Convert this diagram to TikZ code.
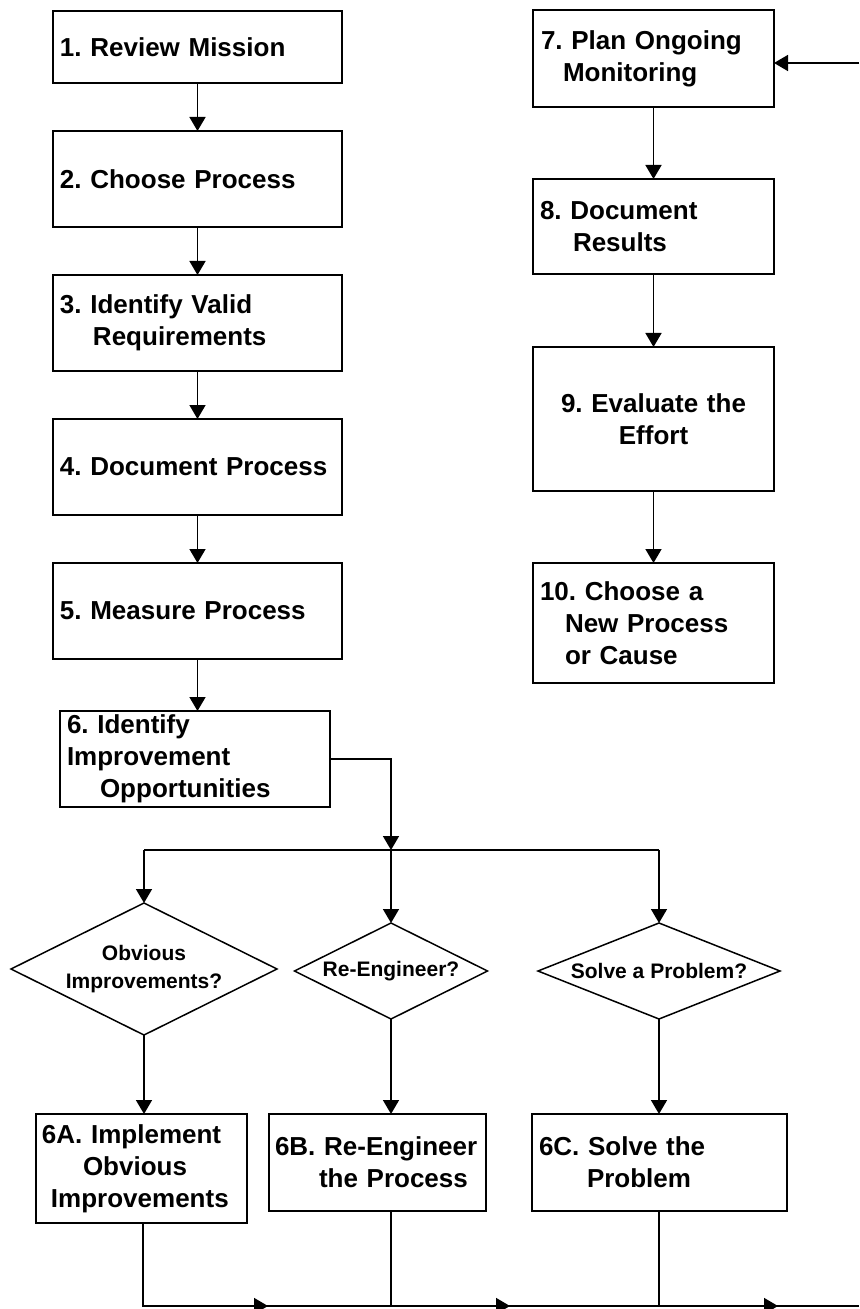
\documentclass[tikz,border=0pt]{standalone}
\usepackage{fontspec}
\setmainfont{Liberation Sans}
\frenchspacing
\usetikzlibrary{shapes.geometric,arrows.meta}

\begin{document}
\begin{tikzpicture}[x=1bp,y=-1bp]
  % some styles
  \tikzset{
    box/.style={
      rectangle,
      draw,
      line width=1.5bp,
      inner sep=0mm,
      outer sep=0mm,
      align=left,
      font=\fontsize{26bp}{32bp}\selectfont\bfseries
    },
    decision/.style={
      diamond,
      draw,
      line width=1.5bp,
      inner sep=0mm,
      outer sep=0mm,
      aspect=2,
      align=center,
      font=\fontsize{21bp}{28bp}\selectfont\bfseries
    },
    arr/.style={line width=1.6bp,-{Triangle[width=16bp,length=14bp]}},
    conn/.style={line width=1.6bp}
  }

\useasboundingbox (0,0) rectangle (859,1309);

% left column
\node[box, minimum width=289bp, minimum height=72bp, text width=275bp] (s1) at (197.5,47) {1. Review Mission};
\node[box, minimum width=289bp, minimum height=96bp, text width=275bp] (s2) at (197.5,179) {2. Choose Process};
\node[box, minimum width=289bp, minimum height=96bp, text width=275bp] (s3) at (197.5,323) {3. Identify Valid\\\hspace*{33bp}Requirements};
\node[box, minimum width=289bp, minimum height=96bp, text width=275bp] (s4) at (197.5,467) {4. Document Process};
\node[box, minimum width=289bp, minimum height=96bp, text width=275bp] (s5) at (197.5,611) {5. Measure Process};
\node[box, minimum width=270bp, minimum height=96bp, text width=256bp] (s6) at (195,759) {6. Identify\\Improvement\\\hspace*{33bp}Opportunities};

% right column
\node[box, minimum width=241bp, minimum height=97bp, text width=225bp] (s7) at (653.5,58.5) {7. Plan Ongoing\\\hspace*{22bp}Monitoring};
\node[box, minimum width=241bp, minimum height=95bp, text width=227bp] (s8) at (653.5,226.5) {8. Document\\\hspace*{33bp}Results};
\node[box, minimum width=241bp, minimum height=144bp, text width=227bp, align=center] (s9) at (653.5,419) {9. Evaluate the\\Effort};
\node[box, minimum width=241bp, minimum height=120bp, text width=227bp] (s10) at (653.5,623) {10. Choose a\\\hspace*{25bp}New Process\\\hspace*{25bp}or Cause};

% decisions
\node[decision, minimum width=266bp, minimum height=132bp] (d1) at (144,969) {Obvious\\Improvements?};
\node[decision, minimum width=193bp, minimum height=96bp] (d2) at (391,971) {Re-Engineer?};
\node[decision, minimum width=242bp, minimum height=96bp, aspect=2.5] (d3) at (659,971) {Solve a Problem?};

% branches
\node[box, minimum width=211bp, minimum height=109bp, text width=199bp] (a6) at (141.5,1168.5) {6A. Implement\\\hspace*{41bp}Obvious\\\hspace*{9bp}Improvements};
\node[box, minimum width=217bp, minimum height=97bp, text width=205bp] (b6) at (377.5,1162.5) {6B. Re-Engineer\\\hspace*{44bp}the Process};
\node[box, minimum width=255bp, minimum height=97bp, text width=241bp] (c6) at (659.5,1162.5) {6C. Solve the\\\hspace*{48bp}Problem};

\coordinate (bus) at (391,850);
\coordinate (busL) at (d1.north |- bus);
\coordinate (busR) at (d3.north |- bus);
\coordinate (fromright) at (859,63);
\coordinate (baseL) at (143,1306);
\coordinate (baseM) at (391,1306);
\coordinate (baseR) at (659,1306);
\coordinate (exit) at (859,1306);
\coordinate (tip1) at (268,1306);
\coordinate (tip2) at (510,1306);
\coordinate (tip3) at (778,1306);

\draw[arr] (s1) -- (s2);
\draw[arr] (s2) -- (s3);
\draw[arr] (s3) -- (s4);
\draw[arr] (s4) -- (s5);
\draw[arr] (s5.south) -- (s5.south |- s6.north);
\draw[arr] (s6.east) -| (bus);
\draw[conn] (busL) -- (busR);
\draw[arr] (busL) -- (d1.north);
\draw[arr] (bus) -- (d2.north);
\draw[arr] (busR) -- (d3.north);

\draw[arr] (d1.south) -- (d1.south |- a6.north);
\draw[arr] (d2.south) -- (d2.south |- b6.north);
\draw[arr] (d3.south) -- (d3.south |- c6.north);

\draw[conn] (baseL |- a6.south) -- (baseL) -- (exit);
\draw[conn] (baseM |- b6.south) -- (baseM);
\draw[conn] (baseR |- c6.south) -- (baseR);
\draw[arr] (baseL) -- (tip1);
\draw[arr] (baseM) -- (tip2);
\draw[arr] (baseR) -- (tip3);

\draw[arr] (fromright) -- (fromright -| s7.east);
\draw[arr] (s7) -- (s8);
\draw[arr] (s8) -- (s9);
\draw[arr] (s9) -- (s10);

\end{tikzpicture}
\end{document}
